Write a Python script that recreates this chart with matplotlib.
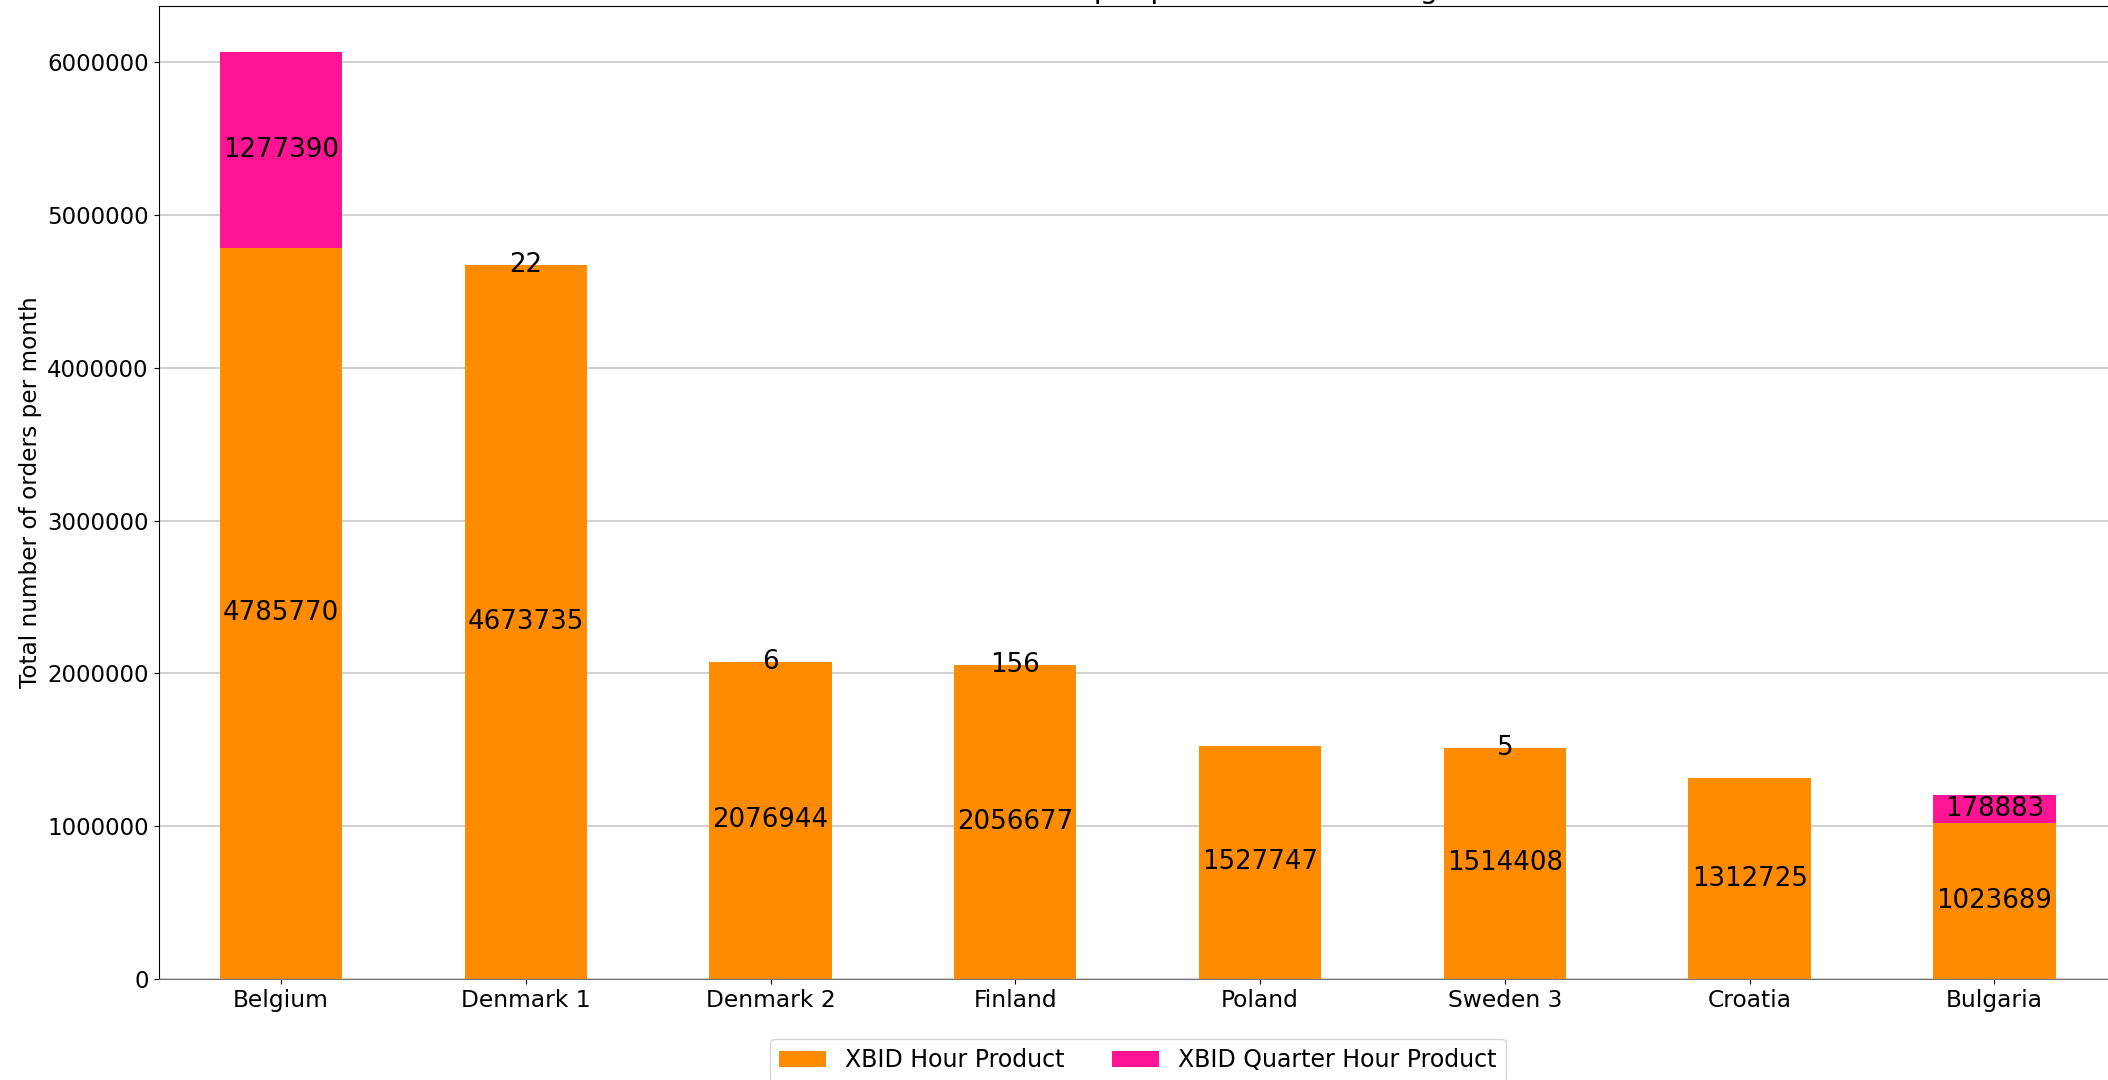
import numpy as np
import matplotlib
matplotlib.use("Agg")
import matplotlib.pyplot as plt
from matplotlib.ticker import FuncFormatter

countries = ['Belgium', 'Denmark 1', 'Denmark 2', 'Finland', 'Poland', 'Sweden 3', 'Croatia', 'Bulgaria']
hour_orders = [4785770, 4673735, 2076944, 2056677, 1527747, 1514408, 1312725, 1023689]
quarter_orders = [1277390, 22, 6, 156, 0, 5, 0, 178883]
series_names = ['XBID Hour Product', 'XBID Quarter Hour Product']
colors = ['#FF8C00', '#FF1493']

fs = 16.5
fig = plt.figure(figsize=(21.08, 10.8), dpi=100)
ax = fig.add_axes([0.0752, 0.0935, 0.929, 0.9009])

x = np.arange(len(countries))
hour = np.array(hour_orders)
quarter = np.array(quarter_orders)

b1 = ax.bar(x, hour, width=0.5, color=colors[0], label=series_names[0], zorder=3)
b2 = ax.bar(x, quarter, width=0.5, bottom=hour, color=colors[1], label=series_names[1], zorder=3)

# label each segment in its middle, skip empty ones
ax.bar_label(b1, labels=[str(v) if v > 0 else '' for v in hour], label_type='center', fontsize=18.7, zorder=4)
ax.bar_label(b2, labels=[str(v) if v > 0 else '' for v in quarter], label_type='center', fontsize=18.7, zorder=4)

ax.set_xlim(-0.5, len(countries) - 0.5)
ax.set_xticks(x)
ax.set_xticklabels(countries, fontsize=fs + 0.3)
ax.yaxis.set_major_formatter(FuncFormatter(lambda v, p: f"{int(v)}"))
ax.tick_params(axis='y', labelsize=fs)
ax.set_ylabel("Total number of orders per month", fontsize=fs + 0.2)
# the title sits above the top edge, only its lower sliver shows
ax.set_title("Total number of orders per product and bidding zone", fontsize=20.5)

ax.yaxis.grid(True, color='#c8c8c8', linewidth=1.2, zorder=0)
ax.set_axisbelow(True)
ax.spines['bottom'].set_color('#777777')

ax.legend(loc='upper center', bbox_to_anchor=(0.5, -0.0494), ncol=2, fontsize=17)

fig.savefig('out.png', dpi=100)
